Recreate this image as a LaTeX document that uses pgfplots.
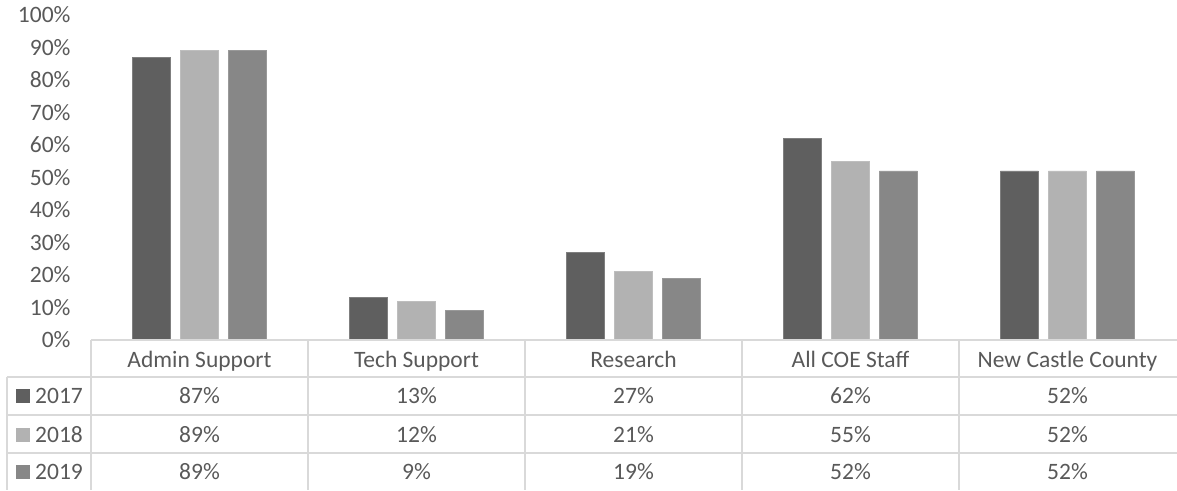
\documentclass[border=0pt]{standalone}
\usepackage{fontspec}
\setmainfont{Carlito}
\usepackage{pgfplots}
\usepackage{pgfplotstable}
\pgfplotsset{compat=1.18}
\usetikzlibrary{calc}

\definecolor{cA}{HTML}{5F5F5F}
\definecolor{cB}{HTML}{B2B2B2}
\definecolor{cC}{HTML}{878787}
\definecolor{txt}{HTML}{595959}
\definecolor{grid}{HTML}{D9D9D9}

\pgfplotstableread{
x   y2017 y2018 y2019
0.5 87    89    89
1.5 13    12    9
2.5 27    21    19
3.5 62    55    52
4.5 52    52    52
}\datatable

\newcommand{\lbl}{\fontsize{23.5}{28}\selectfont}

\begin{document}
\begin{tikzpicture}
\begin{axis}[
  scale only axis,
  width=1085pt, height=325pt,
  xmin=0, xmax=5, ymin=0, ymax=100,
  ybar=10pt, bar width=38pt,
  axis line style={draw=none},
  tick style={draw=none},
  xtick=\empty,
  ytick={0,10,...,100},
  yticklabel={\pgfmathprintnumber{\tick}\%},
  /pgf/number format/assume math mode=true,
  yticklabel style={anchor=east, xshift=-17pt, text=txt, font=\lbl},
  clip=false,
]
\addplot[fill=cA, draw=cA!80!white, line width=0.6pt] table[x=x, y=y2017] {\datatable};
\addplot[fill=cB, draw=cB!85!white, line width=0.6pt] table[x=x, y=y2018] {\datatable};
\addplot[fill=cC, draw=cC!85!white, line width=0.6pt] table[x=x, y=y2019] {\datatable};
\coordinate (O) at (rel axis cs:0,0);
\end{axis}

% data table under the plot
\begin{scope}[shift={(O)}, x=1pt, y=1pt, every node/.style={text=txt, font=\lbl, anchor=base, inner sep=0pt}]
  \draw[grid, line width=1.6pt] (0,0) -- (1086,0);
  \foreach \yy in {-37,-75,-113} \draw[grid, line width=1.6pt] (-84,\yy) -- (1086,\yy);
  \draw[grid, line width=1.6pt] (-84,-37) -- (-84,-150);
  \foreach \xx in {0,217,434,651,868} \draw[grid, line width=1.6pt] (\xx,0) -- (\xx,-150);
  \foreach \name [count=\i from 0] in {Admin Support,Tech Support,Research,All COE Staff,New Castle County}
    \node at (108.5+217*\i,-27) {\name};
  \foreach \yr/\col/\yy/\vals in {2017/cA/-63/{87,13,27,62,52},2018/cB/-102/{89,12,21,55,52},2019/cC/-139/{89,9,19,52,52}}{
    \fill[\col] (-75,\yy) rectangle (-61,\yy+14);
    \node[anchor=base west] at (-56,\yy) {\yr};
    \foreach \v [count=\i from 0] in \vals
      \node at (108.5+217*\i,\yy) {\v\%};
  }
\end{scope}

\pgfresetboundingbox
\path ($(O)+(-91pt,-150pt)$) rectangle ($(O)+(1086pt,340pt)$);
\end{tikzpicture}
\end{document}
